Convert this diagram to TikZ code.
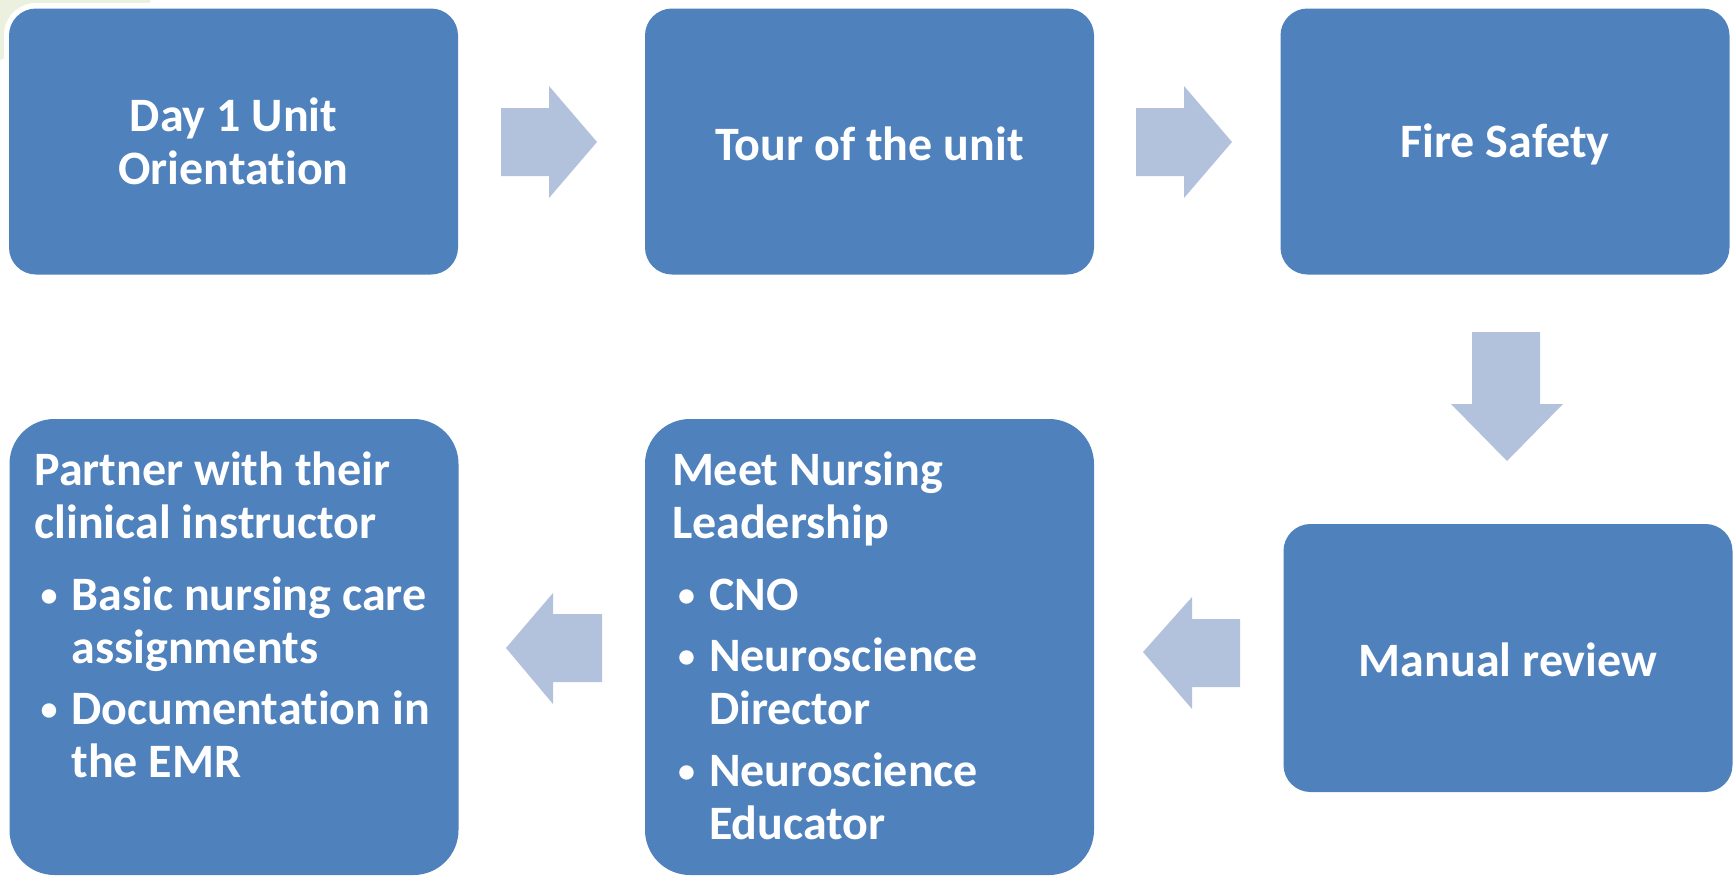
\documentclass[tikz,border=0pt]{standalone}
\usepackage{fontspec}
\setmainfont{Carlito}[Ligatures=NoCommon]
\usetikzlibrary{calc}
\definecolor{boxblue}{RGB}{79,129,189}
\definecolor{arrowblue}{RGB}{179,194,220}
\definecolor{bggreen}{RGB}{235,241,222}
\newcommand\mybul{\hspace*{6pt}\makebox[31pt][l]{\raisebox{4pt}{\fontsize{34pt}{34pt}\selectfont •}}}
\newcommand\myind{\hspace*{37pt}}
\begin{document}
\begin{tikzpicture}[x=1pt,y=-1pt,
  box/.style={fill=boxblue, draw=none, rounded corners=27pt, inner sep=0pt, minimum width=449pt},
  tallbox/.style={box, rounded corners=45pt, minimum height=456pt},
  shortbox/.style={box, minimum height=266pt},
  txt/.style={text=white, font=\bfseries\fontsize{48pt}{53pt}\selectfont, inner sep=0pt},
  blockarrow/.style={fill=arrowblue, draw=none}]
\useasboundingbox (0,0) rectangle (1735,876);
\fill[white] (0,0) rectangle (1735,876);
% background corner
\fill[bggreen] (0,0) -- (150,0) -- (150,8) -- (0,60) -- cycle;
\fill[white, rounded corners=32pt] (4,3) rectangle (464,280);
% boxes
\node[shortbox] (b1) at (233.5,141.5) {};
\node[shortbox] (b2) at (869.5,141.5) {};
\node[shortbox] (b3) at (1505,141.5) {};
\node[tallbox] (b4) at (234,647) {};
\node[tallbox] (b5) at (869.5,647) {};
\node[shortbox, minimum height=268pt] (b6) at (1508,658) {};
% texts
\node[txt, align=center] (t1) at ($(b1)+(0,0)$) {Day 1 Unit\\Orientation};
\node[txt, align=center] (t2) at ($(b2)+(0,2)$) {Tour of the unit};
\node[txt, align=center] (t3) at ($(b3)+(0,3)$) {Fire Safety};
\node[txt, align=center] (t6) at ($(b6)+(0,2)$) {Manual review};
\node[txt, anchor=north west, align=left] (t4) at ($(b4.north west)+(25,33)$)
  {Partner with their\\clinical instructor\\[19pt]
   \mybul Basic nursing care\\\myind assignments\\[8pt]
   \mybul Documentation in\\\myind the EMR};
\node[txt, anchor=north west, align=left] (t5) at ($(b5.north west)+(27,33)$)
  {Meet Nursing\\Leadership\\[19pt]
   \mybul CNO\\[8pt]
   \mybul Neuroscience\\\myind Director\\[9pt]
   \mybul Neuroscience\\\myind Educator};
% block arrows
\fill[blockarrow] (501,108) -- (549,108) -- (549,86) -- (597,142) -- (549,198) -- (549,176) -- (501,176) -- cycle;
\fill[blockarrow] (1136,108) -- (1184,108) -- (1184,86) -- (1232,142) -- (1184,198) -- (1184,176) -- (1136,176) -- cycle;
\fill[blockarrow] (1472,332) -- (1540,332) -- (1540,404) -- (1563,404) -- (1507,461) -- (1451,404) -- (1472,404) -- cycle;
\fill[blockarrow] (1240,619) -- (1240,687) -- (1192,687) -- (1192,709) -- (1143,652) -- (1192,597) -- (1192,619) -- cycle;
\fill[blockarrow] (602,614) -- (602,682) -- (553,682) -- (553,704) -- (506,648) -- (553,593) -- (553,614) -- cycle;
\end{tikzpicture}
\end{document}
